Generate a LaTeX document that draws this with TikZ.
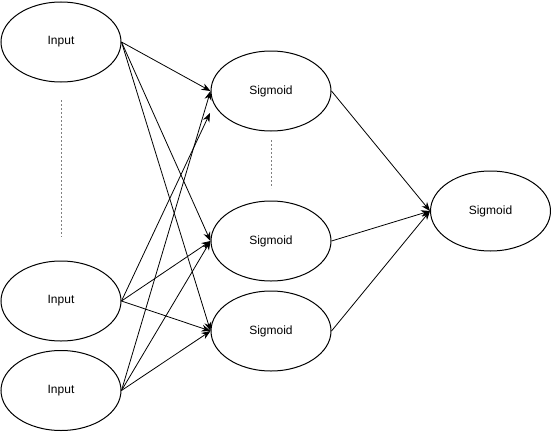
\documentclass[tikz,border=0pt]{standalone}
\usepackage{fontspec}
\setmainfont{Liberation Sans}
\usetikzlibrary{arrows.meta,shapes.geometric}
\begin{document}
\begin{tikzpicture}[x=1pt,y=-1pt,
  unit/.style={ellipse,draw,line width=1pt,minimum width=120pt,minimum height=80pt,inner sep=0pt,font=\fontsize{12}{14}\selectfont},
  conn/.style={line width=0.8pt,-{Stealth[length=9pt,width=7pt]}},
  dots/.style={draw=gray,line width=1pt,dash pattern=on 2pt off 2pt}]
\useasboundingbox (0,0) rectangle (551,431);
\node[unit] (i1) at (61,42) {Input};
\node[unit] (i2) at (61,301) {Input};
\node[unit] (i3) at (61,390.5) {Input};
\node[unit] (s1) at (271,91) {Sigmoid};
\node[unit] (s2) at (271,241) {Sigmoid};
\node[unit] (s3) at (271,331) {Sigmoid};
\node[unit] (o) at (490.5,211) {Sigmoid};
\coordinate (s1b) at (210,113);
\coordinate (d1a) at (61,100);
\coordinate (d1b) at (61,237);
\coordinate (d2a) at (271,140);
\coordinate (d2b) at (271,188);
\draw[dots] (d1a) -- (d1b);
\draw[dots] (d2a) -- (d2b);
\draw[conn] (i1.east) -- (s1.west);
\draw[conn] (i1.east) -- (s2.west);
\draw[conn] (i1.east) -- (s3.west);
\draw[conn] (i2.east) -- (s1b);
\draw[conn] (i2.east) -- (s2.west);
\draw[conn] (i2.east) -- (s3.west);
\draw[conn] (i3.east) -- (s1.west);
\draw[conn] (i3.east) -- (s2.west);
\draw[conn] (i3.east) -- (s3.west);
\draw[conn] (s1.east) -- (o.west);
\draw[conn] (s2.east) -- (o.west);
\draw[conn] (s3.east) -- (o.west);
\end{tikzpicture}
\end{document}
